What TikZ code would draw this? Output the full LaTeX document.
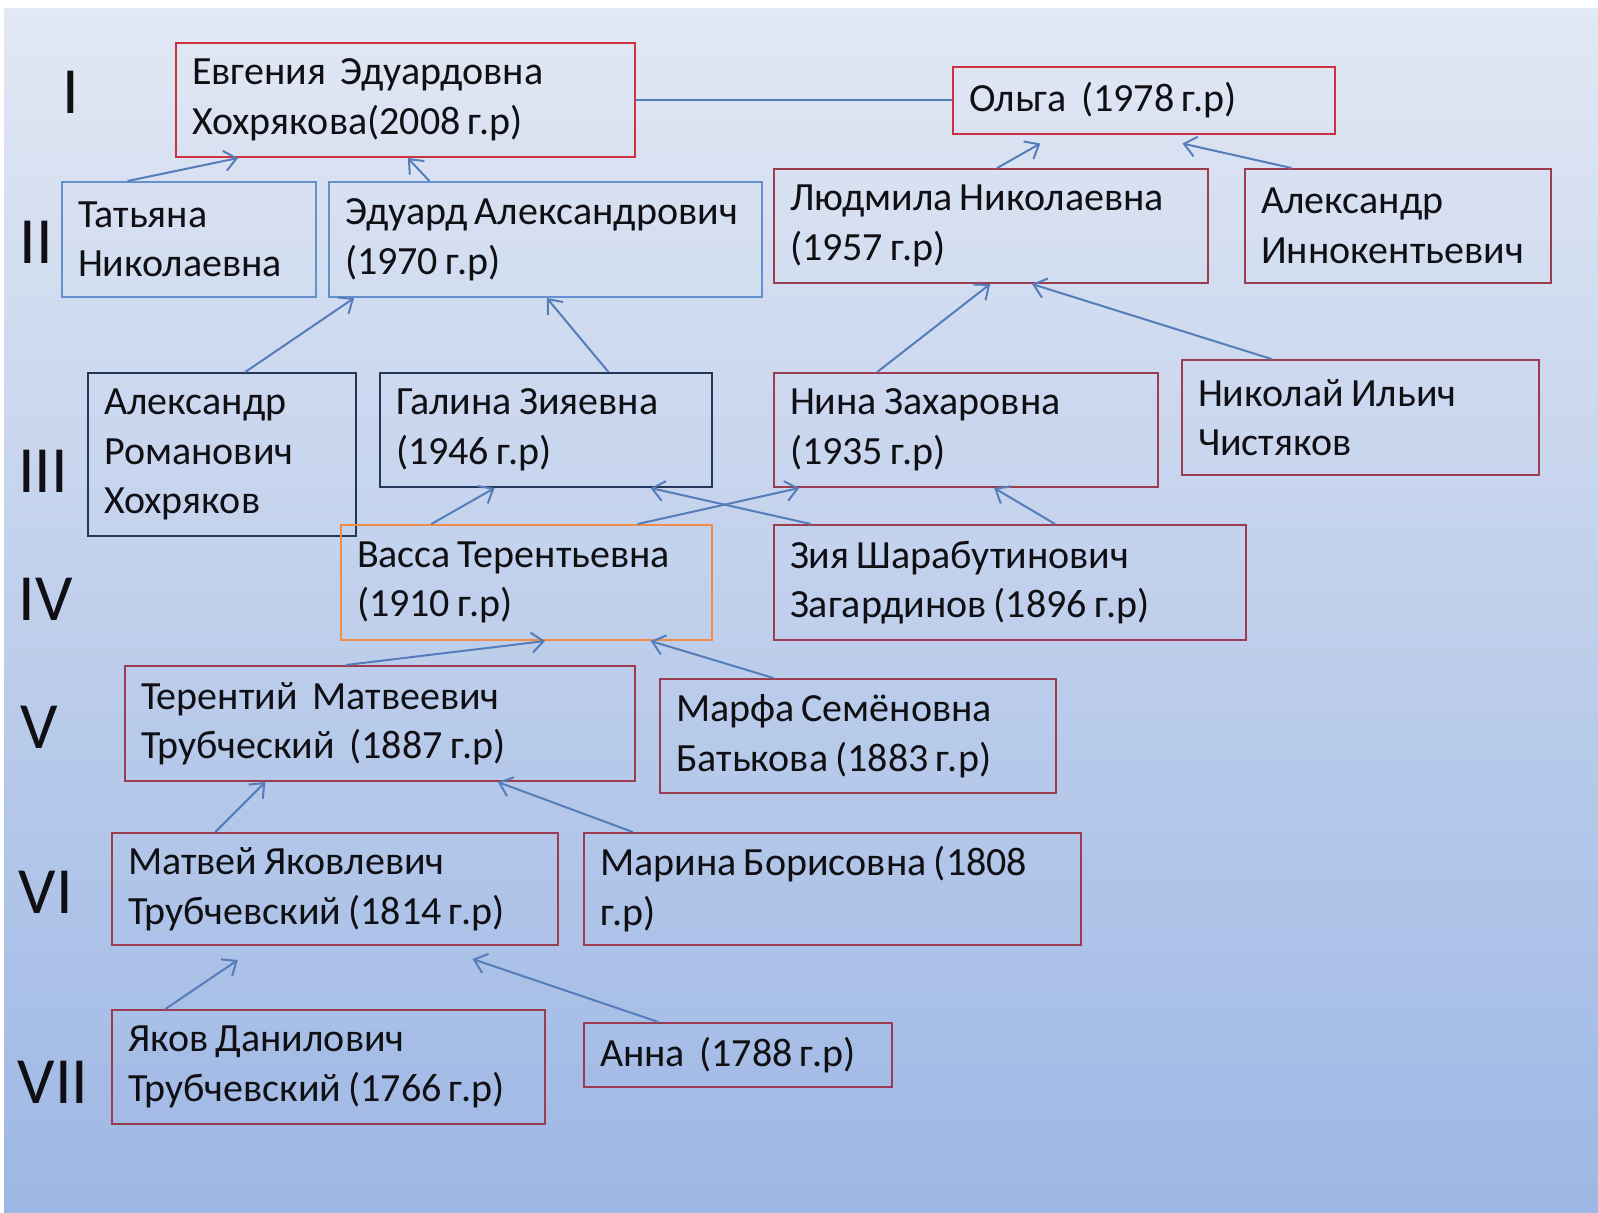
\documentclass[tikz,border=0pt]{standalone}
\usepackage{fontspec}
\setmainfont{Carlito}
\usetikzlibrary{arrows.meta,calc}
\definecolor{TreeTop}{RGB}{226,232,244}
\definecolor{TreeBottom}{RGB}{157,183,228}
\definecolor{TreeRed}{RGB}{205,50,65}
\definecolor{TreeMaroon}{RGB}{155,60,80}
\definecolor{TreeBlue}{RGB}{100,145,205}
\definecolor{TreeNavy}{RGB}{35,55,90}
\definecolor{TreeOrange}{RGB}{240,140,70}
\definecolor{TreeLink}{RGB}{85,125,185}
\definecolor{TreeInk}{RGB}{15,15,20}
\tikzset{
  tree/box/.style 2 args={
    draw=TreeMaroon,
    line width=1pt,
    rectangle,
    align=left,
    text=TreeInk,
    inner xsep=8pt,
    inner ysep=2pt,
    minimum width=#1*0.5pt,
    minimum height=#2*0.5pt,
    text width=#1*0.5pt-16pt,
    font=\fontsize{20}{24.8}\selectfont,
    execute at begin node={\spaceskip=0.18em\relax}
  },
  tree/red/.style={draw=TreeRed},
  tree/blue/.style={draw=TreeBlue},
  tree/navy/.style={draw=TreeNavy},
  tree/orange/.style={draw=TreeOrange},
  tree/link/.style={draw=TreeLink, line width=1pt},
  tree/arrow/.style={tree/link, -{Straight Barb[length=6pt,width=10pt,line width=1pt]}},
  tree/gen/.style={text=TreeInk, font=\fontsize{33}{36}\selectfont}
}
\begin{document}
\begin{tikzpicture}[x=0.5pt,y=-0.5pt]
  \useasboundingbox (0,0) rectangle (1598,1212);
  \fill[white] (0,0) rectangle (1598,1212);
  \shade[top color=TreeTop,bottom color=TreeBottom] (4,8) rectangle (1598,1212);
  % generations
  \node[tree/gen] (g1) at (71,92) {I};
  \node[tree/gen] (g2) at (36,242) {II};
  \node[tree/gen] (g3) at (43,471) {III};
  \node[tree/gen] (g4) at (46,599) {IV};
  \node[tree/gen] (g5) at (39,727) {V};
  \node[tree/gen] (g6) at (46,892) {VI};
  \node[tree/gen] (g7) at (53,1082) {VII};
  % I
  \node[tree/box={459}{114},tree/red] (evg) at (405.5,100) {Евгения\ \ Эдуардовна\\Хохрякова(2008 г.р)};
  \node[tree/box={382}{67},tree/red] (olga) at (1144,100) {Ольга\ \ (1978 г.р)};
  % II
  \node[tree/box={254}{115},tree/blue] (tat) at (189,239.5) {Татьяна\\Николаевна};
  \node[tree/box={433}{115},tree/blue] (edu) at (545.5,239.5) {Эдуард Александрович\\(1970 г.р)};
  \node[tree/box={434}{114}] (lyud) at (991,226) {Людмила Николаевна\\(1957 г.р)};
  \node[tree/box={306}{114}] (alexi) at (1398,226) {Александр\\Иннокентьевич};
  % III
  \node[tree/box={268}{163},tree/navy] (alexr) at (222,454.5) {Александр\\Романович\\Хохряков};
  \node[tree/box={332}{114},tree/navy] (gal) at (546,430) {Галина Зияевна\\(1946 г.р)};
  \node[tree/box={384}{114}] (nina) at (966,430) {Нина Захаровна\\(1935 г.р)};
  \node[tree/box={357}{115}] (nik) at (1360.5,417.5) {Николай Ильич\\Чистяков};
  % IV
  \node[tree/box={371}{115},tree/orange] (vassa) at (526.5,582.5) {Васса Терентьевна\\(1910 г.р)};
  \node[tree/box={472}{115}] (ziya) at (1010,582.5) {Зия Шарабутинович\\Загардинов (1896 г.р)};
  % V
  \node[tree/box={510}{115}] (ter) at (380,723.5) {Терентий\ \ Матвеевич\\Трубческий\ \ (1887 г.р)};
  \node[tree/box={396}{114}] (marfa) at (858,736) {Марфа Семёновна\\Батькова (1883 г.р)};
  % VI
  \node[tree/box={446}{112}] (mat) at (335,889) {Матвей Яковлевич\\Трубчевский (1814 г.р)};
  \node[tree/box={497}{112}] (mar) at (832.5,889) {Марина Борисовна (1808\\г.р)};
  % VII
  \node[tree/box={433}{114}] (yak) at (328.5,1067) {Яков Данилович\\Трубчевский (1766 г.р)};
  \node[tree/box={308}{64}] (anna) at (738,1055) {Анна\ \ (1788 г.р)};
  % links
  \draw[tree/link] (evg.east) -- (olga.west);
  \draw[tree/arrow] ($(tat.north west)!0.26!(tat.north east)$) -- ($(evg.south west)!0.137!(evg.south east)$);
  \draw[tree/arrow] ($(edu.north west)!0.233!(edu.north east)$) -- ($(evg.south west)!0.505!(evg.south east)$);
  \draw[tree/arrow] ($(lyud.north west)!0.514!(lyud.north east)$) -- ($(olga.south west)!0.23!(olga.south east)+(0,9)$);
  \draw[tree/arrow] ($(alexi.north west)!0.154!(alexi.north east)$) -- ($(olga.south west)!0.6!(olga.south east)+(0,9)$);
  \draw[tree/arrow] ($(alexr.north west)!0.586!(alexr.north east)$) -- ($(edu.south west)!0.06!(edu.south east)$);
  \draw[tree/arrow] ($(gal.north west)!0.687!(gal.north east)$) -- ($(edu.south west)!0.503!(edu.south east)$);
  \draw[tree/arrow] ($(nina.north west)!0.27!(nina.north east)$) -- ($(lyud.south west)!0.498!(lyud.south east)$);
  \draw[tree/arrow] ($(nik.north west)!0.252!(nik.north east)$) -- ($(lyud.south west)!0.594!(lyud.south east)$);
  \draw[tree/arrow] ($(vassa.north west)!0.245!(vassa.north east)$) -- ($(gal.south west)!0.346!(gal.south east)$);
  \draw[tree/arrow] ($(vassa.north west)!0.798!(vassa.north east)$) -- ($(nina.south west)!0.068!(nina.south east)$);
  \draw[tree/arrow] ($(ziya.north west)!0.08!(ziya.north east)$) -- ($(gal.south west)!0.813!(gal.south east)$);
  \draw[tree/arrow] ($(ziya.north west)!0.595!(ziya.north east)$) -- ($(nina.south west)!0.573!(nina.south east)$);
  \draw[tree/arrow] ($(ter.north west)!0.433!(ter.north east)$) -- ($(vassa.south west)!0.55!(vassa.south east)$);
  \draw[tree/arrow] ($(marfa.north west)!0.288!(marfa.north east)$) -- ($(vassa.south west)!0.833!(vassa.south east)$);
  \draw[tree/arrow] ($(mat.north west)!0.233!(mat.north east)$) -- ($(ter.south west)!0.276!(ter.south east)$);
  \draw[tree/arrow] ($(mar.north west)!0.1!(mar.north east)$) -- ($(ter.south west)!0.73!(ter.south east)$);
  \draw[tree/arrow] ($(yak.north west)!0.125!(yak.north east)$) -- ($(mat.south west)!0.283!(mat.south east)+(0,14)$);
  \draw[tree/arrow] ($(anna.north west)!0.243!(anna.north east)$) -- ($(mat.south west)!0.807!(mat.south east)+(0,13)$);
\end{tikzpicture}
\end{document}
